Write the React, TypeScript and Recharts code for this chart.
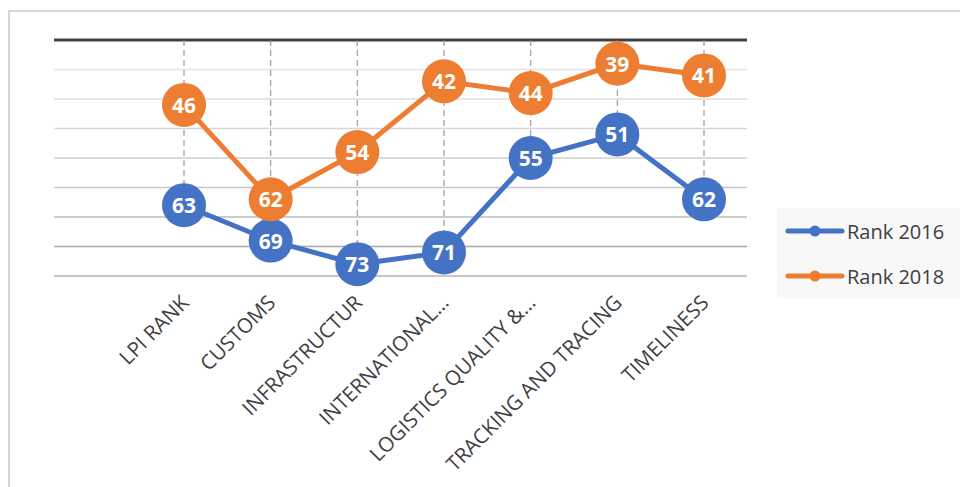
import React from "react";
import { LineChart, Line, XAxis, YAxis, ReferenceLine, Legend } from "recharts";

const categories = [
  "LPI RANK",
  "CUSTOMS",
  "INFRASTRUCTUR",
  "INTERNATIONAL…",
  "LOGISTICS QUALITY &…",
  "TRACKING AND TRACING",
  "TIMELINESS",
];
const rank2016 = [63, 69, 73, 71, 55, 51, 62];
const rank2018 = [46, 62, 54, 42, 44, 39, 41];
const gridValues = [40, 45, 50, 55, 60, 65, 70, 75];
const gridColors = ["#e4e4e4", "#dcdcdc", "#d6d6d6", "#cfcfcf", "#c6c6c6", "#bcbcbc", "#a9a9a9", "#b3b3b3"];
const yDomain = [35, 75];

const data = categories.map((c, i) => ({ cat: c, r16: rank2016[i], r18: rank2018[i] }));

const FONT = "'Open Sans', 'DejaVu Sans', sans-serif";

const renderTick = (props: any) => {
  const { x, y, payload } = props;
  const px = x + 1;
  const py = y + 21;
  return (
    <text
      x={px}
      y={py}
      transform={`rotate(-45, ${px}, ${py})`}
      textAnchor="end"
      dy="0.35em"
      fontSize={20.5}
      fontFamily={FONT}
      fill="#404040"
    >
      {payload.value}
    </text>
  );
};

const renderValueLabel = (props: any) => {
  const { x, y, value } = props;
  return (
    <text
      x={x}
      y={y}
      textAnchor="middle"
      dominantBaseline="central"
      fontSize={21}
      fontWeight="bold"
      fontFamily={FONT}
      fill="#ffffff"
    >
      {value}
    </text>
  );
};

const renderLegend = (props: any) => {
  const { payload } = props;
  return (
    <div style={{ position: "relative", width: 200, height: 90, background: "#f8f8f8" }}>
      {(payload || []).map((p: any, i: number) => (
        <div
          key={i}
          style={{
            position: "absolute",
            left: 8,
            top: 9 + i * 45,
            height: 28,
            display: "flex",
            alignItems: "center",
          }}
        >
          <svg width={60} height={28}>
            <line x1={3} y1={14} x2={57} y2={14} stroke={p.color} strokeWidth={5} strokeLinecap="round" />
            <circle cx={30} cy={14} r={5.5} fill={p.color} />
          </svg>
          <span
            style={{
              fontFamily: FONT,
              fontSize: 20,
              color: "#404040",
              marginLeft: 2,
              whiteSpace: "nowrap",
            }}
          >
            {p.value}
          </span>
        </div>
      ))}
    </div>
  );
};

export default function App() {
  return (
    <div
      style={{
        position: "fixed",
        left: 0,
        top: 0,
        width: 960,
        height: 487,
        overflow: "hidden",
        background: "#ffffff",
      }}
    >
      <div
        style={{
          position: "absolute",
          left: 8,
          top: 10,
          width: 1000,
          height: 600,
          border: "2px solid #d6d6d6",
          boxSizing: "border-box",
        }}
      />
      <div style={{ position: "absolute", left: 0, top: 0 }}>
        <LineChart
          width={960}
          height={487}
          data={data}
          margin={{ top: 40, left: 54, right: 213, bottom: 61 }}
        >
          <YAxis hide type="number" domain={yDomain} reversed />
          <XAxis
            dataKey="cat"
            height={60}
            interval={0}
            axisLine={false}
            tickLine={false}
            tickSize={0}
            tick={renderTick}
            padding={{ left: 130, right: 43 }}
          />
          {gridValues.map((v, i) => (
            <ReferenceLine key={"g" + v} y={v} stroke={gridColors[i]} strokeWidth={1.5} />
          ))}
          <ReferenceLine y={yDomain[0]} stroke="#404040" strokeWidth={3} />
          <Line
            dataKey="r16"
            name="Rank 2016"
            stroke="#4472C4"
            strokeWidth={5}
            dot={{ r: 22, fill: "#4472C4", stroke: "none" }}
            activeDot={false}
            label={renderValueLabel}
            isAnimationActive={false}
          />
          <Line
            dataKey="r18"
            name="Rank 2018"
            stroke="#ED7D31"
            strokeWidth={5}
            dot={{ r: 22, fill: "#ED7D31", stroke: "none" }}
            activeDot={false}
            label={renderValueLabel}
            isAnimationActive={false}
          />
          {categories.map((c, i) => (
            <ReferenceLine
              key={"d" + i}
              segment={[
                { x: c, y: yDomain[0] },
                { x: c, y: Math.max(rank2016[i], rank2018[i]) },
              ]}
              stroke="#8c8c8c"
              strokeOpacity={0.7}
              strokeWidth={1.5}
              strokeDasharray="6 4"
            />
          ))}
          <Legend
            content={renderLegend}
            wrapperStyle={{ position: "absolute", left: 777, top: 208, width: 200, height: 90, bottom: "auto", right: "auto" }}
          />
        </LineChart>
      </div>
    </div>
  );
}
